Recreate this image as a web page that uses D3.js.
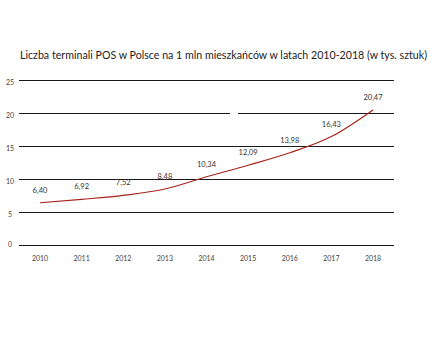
<!DOCTYPE html>
<html>
<head>
<meta charset="utf-8">
<script src="https://cdn.jsdelivr.net/npm/d3@7"></script>
<style>
  body { margin: 0; background: #fff; }
  svg { display: block; }
</style>
</head>
<body>
<svg class="chart" width="431" height="338"></svg>
<script>
const years = ["2010", "2011", "2012", "2013", "2014", "2015", "2016", "2017", "2018"];
const values = [6.40, 6.92, 7.52, 8.48, 10.34, 12.09, 13.98, 16.43, 20.47];
const yTicks = [0, 5, 10, 15, 20, 25];
const title = "Liczba terminali POS w Polsce na 1 mln mieszkańców w latach 2010-2018 (w tys. sztuk)";

const svg = d3.select("svg.chart"),
      width = 431,
      height = 338;

const margin = {top: 80, right: 37, bottom: 93, left: 19};

const x = d3.scalePoint()
    .domain(years)
    .range([40, 373]);

const y = d3.scaleLinear()
    .domain([0, 25])
    .range([height - margin.bottom, margin.top]);

svg.append("text")
    .attr("x", 20)
    .attr("y", 59)
    .attr("font-family", "Lato, sans-serif")
    .attr("font-size", 10.5)
    .attr("fill", "#222")
    .attr("textLength", 407)
    .attr("lengthAdjust", "spacingAndGlyphs")
    .text(title);

// gridlines
svg.append("g")
    .selectAll("line")
    .data(yTicks)
    .join("line")
    .attr("x1", margin.left)
    .attr("x2", width - margin.right)
    .attr("y1", d => Math.round(y(d)) + 0.5)
    .attr("y2", d => Math.round(y(d)) + 0.5)
    .attr("stroke", "#1a1a1a")
    .attr("stroke-width", 1.2);

// small break in the 20 line
svg.append("rect")
    .attr("x", 230)
    .attr("y", y(20) - 2)
    .attr("width", 8)
    .attr("height", 4)
    .attr("fill", "#fff");

// y labels
svg.append("g")
    .selectAll("text")
    .data(yTicks)
    .join("text")
    .attr("x", 10)
    .attr("y", d => y(d) + (d === 0 ? 0 : 3))
    .attr("dy", "0.35em")
    .attr("text-anchor", "middle")
    .attr("font-family", "Lato, sans-serif")
    .attr("font-size", 7)
    .attr("fill", "#444")
    .text(d => d);

// x labels
svg.append("g")
    .selectAll("text")
    .data(years)
    .join("text")
    .attr("x", d => x(d))
    .attr("y", height - margin.bottom + 16)
    .attr("text-anchor", "middle")
    .attr("font-family", "Lato, sans-serif")
    .attr("font-size", 7)
    .attr("fill", "#444")
    .text(d => d);

const pts = years.map((d, i) => [x(d), y(values[i])]);

svg.append("path")
    .datum(pts)
    .attr("d", d3.line().curve(d3.curveMonotoneX))
    .attr("fill", "none")
    .attr("stroke", "#a8231b")
    .attr("stroke-width", 1.2);

svg.append("g")
    .selectAll("text")
    .data(years)
    .join("text")
    .attr("x", d => x(d))
    .attr("y", (d, i) => y(values[i]) - 10)
    .attr("text-anchor", "middle")
    .attr("font-family", "Lato, sans-serif")
    .attr("font-size", 7.5)
    .attr("fill", "#333")
    .text((d, i) => values[i].toFixed(2).replace(".", ","));
</script>
</body>
</html>
